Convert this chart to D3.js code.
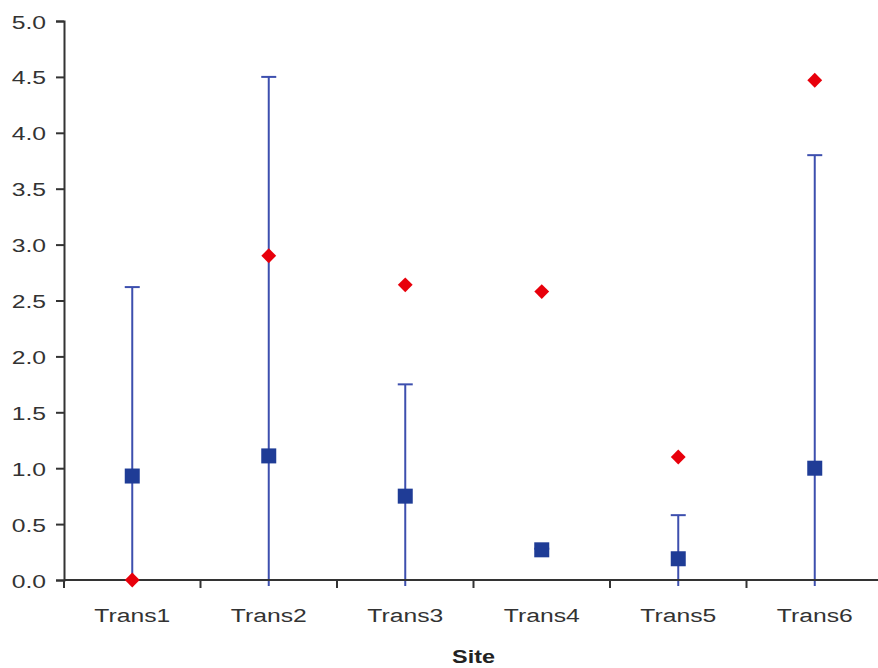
<!DOCTYPE html>
<html>
<head>
<meta charset="utf-8">
<script src="https://cdn.jsdelivr.net/npm/d3@7"></script>
<style>
  body { margin: 0; background: #fff; }
  svg { display: block; font-family: "Liberation Sans", Arial, sans-serif; }
</style>
</head>
<body>
<div id="container"></div>
<script>
/* DATA */
const sites = ["Trans1", "Trans2", "Trans3", "Trans4", "Trans5", "Trans6"];
const squareValues = [0.93, 1.11, 0.75, 0.27, 0.19, 1.0];
const errorValues = [1.69, 3.39, 1.0, 0.01, 0.39, 2.8];
const diamondValues = [0.0, 2.9, 2.64, 2.58, 1.1, 4.47];
const yTicks = [0, 0.5, 1, 1.5, 2, 2.5, 3, 3.5, 4, 4.5, 5];

/* CONSTANTS */
const width = 878,
  height = 668,
  margin = { top: 21, bottom: 88, left: 64, right: -5 };
const stretch = 1.3; // the source text is wide, so stretch it sideways

const svg = d3.select("#container")
  .append("svg")
  .attr("width", width)
  .attr("height", height);

const x = d3.scaleBand()
  .domain(sites)
  .range([margin.left, width - margin.right])
  .padding(0);

const y = d3.scaleLinear()
  .domain([0, 5])
  .range([height - margin.bottom, margin.top]);

const axisColor = "#333";
const barColor = "#3d4fae";

const rows = sites.map((s, i) => ({
  site: s,
  value: squareValues[i],
  err: errorValues[i],
  diamond: diamondValues[i]
}));

// ERROR BARS (drawn first so markers sit on top)
const bars = svg.append("g").attr("class", "error-bars");
bars.selectAll("line.stem")
  .data(rows)
  .join("line")
  .attr("class", "stem")
  .attr("x1", d => x(d.site) + x.bandwidth() / 2)
  .attr("x2", d => x(d.site) + x.bandwidth() / 2)
  .attr("y1", d => Math.min(y(d.value - d.err), y(0) + 6))
  .attr("y2", d => y(d.value + d.err))
  .attr("stroke", barColor)
  .attr("stroke-width", 2);

bars.selectAll("line.cap")
  .data(rows)
  .join("line")
  .attr("class", "cap")
  .attr("x1", d => x(d.site) + x.bandwidth() / 2 - 7.5)
  .attr("x2", d => x(d.site) + x.bandwidth() / 2 + 7.5)
  .attr("y1", d => y(d.value + d.err))
  .attr("y2", d => y(d.value + d.err))
  .attr("stroke", barColor)
  .attr("stroke-width", 2);

// Y AXIS
const yAxis = svg.append("g")
  .attr("transform", `translate(${margin.left},0)`)
  .call(d3.axisLeft(y).tickValues(yTicks).tickFormat(d3.format(".1f")).tickSize(8));
yAxis.select(".domain").attr("stroke", axisColor).attr("stroke-width", 2);
yAxis.selectAll(".tick line").attr("stroke", axisColor).attr("stroke-width", 2);
yAxis.selectAll(".tick text")
  .attr("x", null)
  .attr("dy", null)
  .attr("transform", `translate(-18,7) scale(${stretch},1)`)
  .style("font-size", "19px")
  .attr("fill", "#333");

// X AXIS (ticks between categories)
const xAxisG = svg.append("g").attr("class", "x-axis");
xAxisG.append("line")
  .attr("x1", margin.left)
  .attr("x2", width)
  .attr("y1", y(0))
  .attr("y2", y(0))
  .attr("stroke", axisColor)
  .attr("stroke-width", 2);

xAxisG.selectAll("line.xtick")
  .data(sites)
  .join("line")
  .attr("class", "xtick")
  .attr("x1", d => x(d))
  .attr("x2", d => x(d))
  .attr("y1", y(0))
  .attr("y2", y(0) + 8)
  .attr("stroke", axisColor)
  .attr("stroke-width", 2);

xAxisG.selectAll("text.xlabel")
  .data(sites)
  .join("text")
  .attr("class", "xlabel")
  .attr("transform", d => `translate(${x(d) + x.bandwidth() / 2},${y(0) + 42}) scale(${stretch},1)`)
  .attr("text-anchor", "middle")
  .style("font-size", "19px")
  .attr("fill", "#333")
  .text(d => d);

svg.append("text")
  .attr("transform", `translate(${x("Trans3") + x.bandwidth()},${height - 5}) scale(${stretch},1)`)
  .attr("text-anchor", "middle")
  .style("font-size", "18px")
  .style("font-weight", "bold")
  .attr("fill", "#222")
  .text("Site");

// SQUARE MARKERS
svg.selectAll("rect.square")
  .data(rows)
  .join("rect")
  .attr("class", "square")
  .attr("x", d => x(d.site) + x.bandwidth() / 2 - 7.5)
  .attr("y", d => y(d.value) - 7.5)
  .attr("width", 15)
  .attr("height", 15)
  .attr("fill", "#1f3c96");

// DIAMOND MARKERS
const diamond = d3.symbol().type(d3.symbolSquare).size(110);
svg.selectAll("path.diamond")
  .data(rows)
  .join("path")
  .attr("class", "diamond")
  .attr("d", diamond)
  .attr("transform", d => `translate(${x(d.site) + x.bandwidth() / 2},${y(d.diamond)}) rotate(45)`)
  .attr("fill", "#e8000b");
</script>
</body>
</html>
